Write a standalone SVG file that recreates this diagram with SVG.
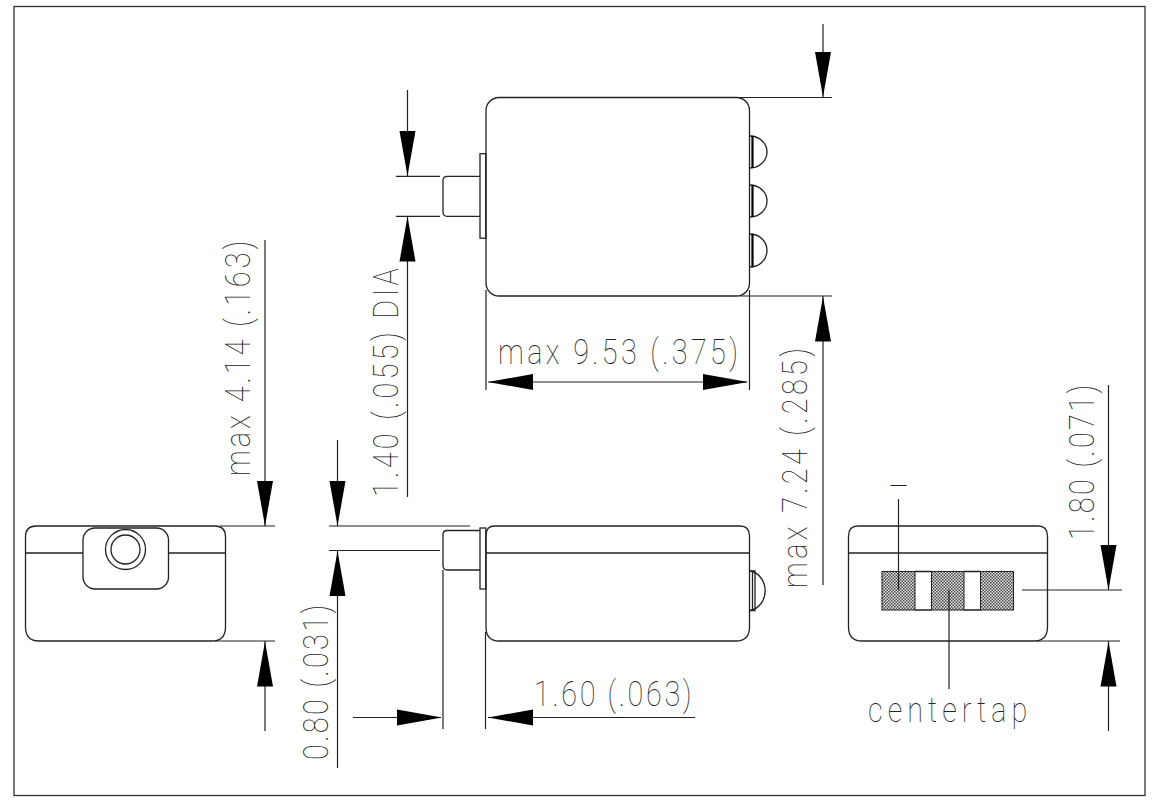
<svg xmlns="http://www.w3.org/2000/svg" width="1159" height="800" viewBox="0 0 1159 800">
<style>
.l{fill:none;stroke:#222;stroke-width:1.2}
.b{fill:none;stroke:#222;stroke-width:1.3}
.t{font-family:Roboto,"Liberation Sans",sans-serif;font-weight:100;font-size:36px;fill:#222}
.h{fill:#000;stroke:none}
.p{fill:url(#st);stroke:#222;stroke-width:1}
</style>
<defs>
<pattern id="st" width="3" height="3" patternUnits="userSpaceOnUse"><rect width="3" height="3" fill="#e8e8e8"/><rect width="1.500" height="1.500" fill="#444"/><rect x="1.500" y="1.500" width="1.500" height="1.500" fill="#444"/></pattern>
<path id="ad" d="M0 0L-8 -45H8Z"/>
</defs>
<rect x="14" y="6.500" width="1131" height="789" fill="#fff" stroke="#333" stroke-width="1.300"/>
<g id="top-view">
<rect class="b" x="486" y="97.500" width="263.500" height="198.500" rx="13"/>
<rect class="b" x="480" y="153.700" width="5.800" height="84.500"/>
<path class="b" d="M480 176.300H447Q443.500 176.300 443 180V212.500Q443.500 216.300 447 216.300H480"/>
<path class="b" d="M750 136A17 16 0 0 1 750 168M750 185A17 16 0 0 1 750 217M750 234A17 16.500 0 0 1 750 267"/>
<path d="M752.500 136V168M752.500 185V217M752.500 234V267" fill="none" stroke="#000" stroke-width="2.200"/>
</g>
<g id="left-view">
<path class="b" d="M36 526H215Q225.500 526 225.500 537V627Q225.500 641 212 641H39Q25.500 641 25.500 627V537Q25.500 526 36 526Z"/>
<path class="b" d="M25.500 553H83M168.500 553H225.500"/>
<rect x="83" y="528" width="85.500" height="61" rx="12" fill="#fff" stroke="#222" stroke-width="1.300"/>
<circle class="b" cx="125.500" cy="549.500" r="20"/>
<circle class="b" cx="125.500" cy="549.500" r="14.500"/>
</g>
<g id="side-view">
<path class="b" d="M495 526H740Q749.500 526 749.500 536V627Q749.500 641 736 641H499Q486 641 486 627V535Q486 526 495 526Z"/>
<path class="b" d="M486 553H749.500"/>
<rect class="b" x="480" y="528" width="5.800" height="61"/>
<path class="b" d="M480 530.500H447Q443.500 530.500 443 534V566Q443.500 570 447 570H480"/>
<path class="b" d="M750 571A18 20 0 0 1 750 610.500"/>
<path class="b" d="M750 571H755V610.500H750M752.500 571V610.500"/>
</g>
<g id="bottom-view">
<path class="b" d="M858 526H1038Q1047.500 526 1047.500 536V627Q1047.500 641 1034 641H862Q848.500 641 848.500 627V536Q848.500 526 858 526Z"/>
<path class="b" d="M848.500 553H1047.500"/>
<rect class="p" x="882" y="571.500" width="33" height="38.500"/>
<rect class="p" x="931.500" y="571.500" width="32.500" height="38.500"/>
<rect class="p" x="980.500" y="571.500" width="33" height="38.500"/>
<path class="b" d="M915 571.500H931.500M915 610H931.500M964 571.500H980.500M964 610H980.500"/>
</g>
<g id="connectors">
<path class="l" d="M407.500 90V176M396 176.300H440M396 216.300H440M407.500 216V497"/>
<use href="#ad" class="h" transform="translate(407.500 176)"/>
<use href="#ad" class="h" transform="translate(407.500 216.500) rotate(180)"/>
<path class="l" d="M823 24V97M738 97.500H832M740 296H832M823 296V585"/>
<use href="#ad" class="h" transform="translate(823 97)"/>
<use href="#ad" class="h" transform="translate(823 296.500) rotate(180)"/>
<path class="l" d="M486 290V390M749.500 290V390M488 382H747"/>
<use href="#ad" class="h" transform="translate(488 382) rotate(90)"/>
<use href="#ad" class="h" transform="translate(748 382) rotate(-90)"/>
<path class="l" d="M265 240V526M220 526H275M215 641H275M265 641V731"/>
<use href="#ad" class="h" transform="translate(265 526)"/>
<use href="#ad" class="h" transform="translate(265 641.500) rotate(180)"/>
<path class="l" d="M337.500 440V526M329 526H470M329 550.500H440M337.500 551V768"/>
<use href="#ad" class="h" transform="translate(337.500 526)"/>
<use href="#ad" class="h" transform="translate(337.500 551) rotate(180)"/>
<path class="l" d="M443 570V729M485.500 632V729M353 717.500H441M488 717.500H695"/>
<use href="#ad" class="h" transform="translate(442 717.500) rotate(-90)"/>
<use href="#ad" class="h" transform="translate(488 717.500) rotate(90)"/>
<path class="l" d="M1108.500 385V590M1022 590H1122M1036 641H1120M1108.500 641V731"/>
<use href="#ad" class="h" transform="translate(1108.500 590)"/>
<use href="#ad" class="h" transform="translate(1108.500 641.500) rotate(180)"/>
<path class="l" d="M898.500 499V590M949 590V689"/>
</g>
<g id="labels">
<text class="t" transform="translate(498 364) scale(.8 1)" textLength="300">max 9.53 (.375)</text>
<text class="t" transform="translate(534 706) scale(.8 1)" textLength="197">1.60 (.063)</text>
<text class="t" transform="translate(868 722) scale(.8 1)" textLength="199">centertap</text>
<text class="t" x="888" y="498" style="font-size:33px">–</text>
<text class="t" transform="translate(250 476) rotate(-90) scale(.8 1)" textLength="294">max 4.14 (.163)</text>
<text class="t" transform="translate(398 497) rotate(-90) scale(.8 1)" textLength="286">1.40 (.055) DIA</text>
<text class="t" transform="translate(328 760) rotate(-90) scale(.8 1)" textLength="194">0.80 (.031)</text>
<text class="t" transform="translate(807 588) rotate(-90) scale(.8 1)" textLength="300">max 7.24 (.285)</text>
<text class="t" transform="translate(1094 540) rotate(-90) scale(.8 1)" textLength="194">1.80 (.071)</text>
</g>
</svg>
